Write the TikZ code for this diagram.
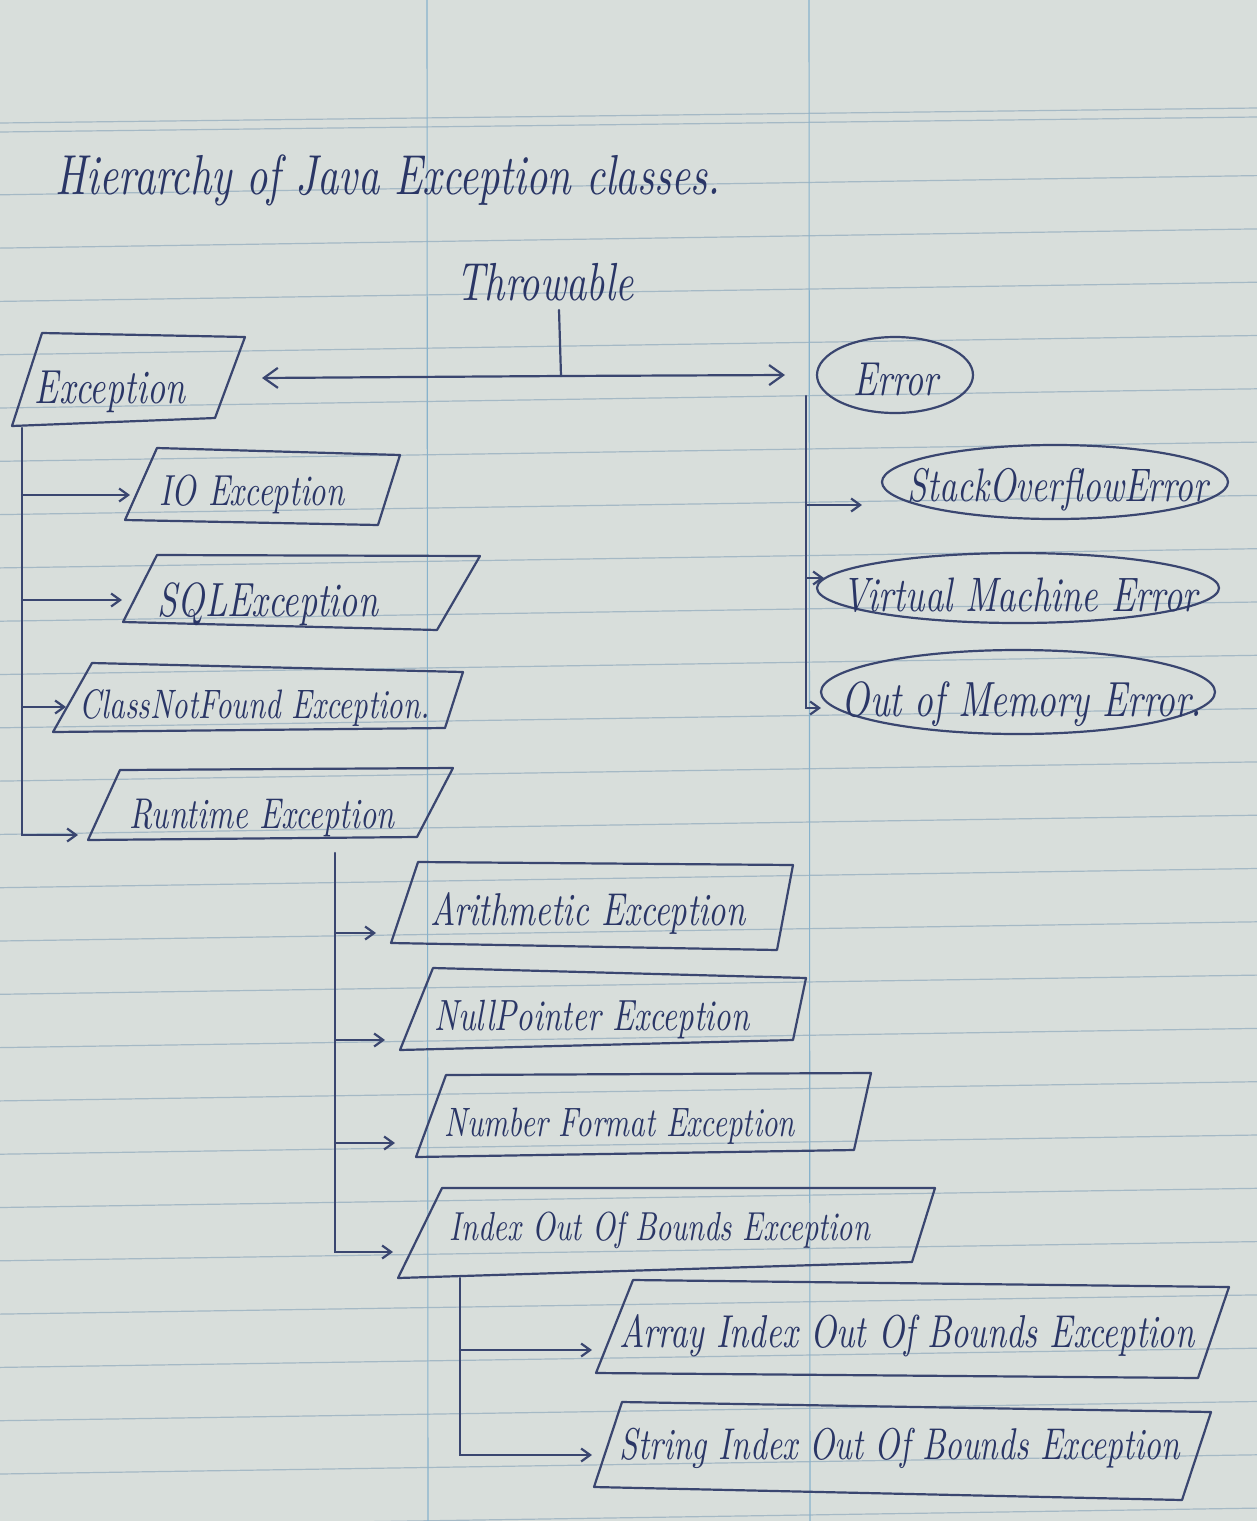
\documentclass[tikz,border=0pt]{standalone}
\usepackage{graphicx}
\usetikzlibrary{arrows.meta,shapes.geometric}
\definecolor{paper}{RGB}{216,222,219}
\definecolor{rulec}{RGB}{165,185,197}
\definecolor{marg}{RGB}{135,178,204}
\definecolor{ink}{RGB}{58,70,112}
\definecolor{inkt}{RGB}{42,54,102}
\newcommand{\hw}[2]{\resizebox{#1}{!}{\scalebox{1}[1.35]{\itshape #2}}}
\begin{document}
\begin{tikzpicture}[x=1pt,y=-1pt,
  shapebox/.style={draw=ink, line width=2.2pt, line join=round, line cap=round},
  conn/.style={draw=ink, line width=2.2pt, line cap=round, -{Straight Barb[length=9pt,width=13pt]}},
  bigconn/.style={draw=ink, line width=2.2pt, line cap=round, -{Straight Barb[length=14pt,width=20pt]}},
  plainln/.style={draw=ink, line width=2.2pt, line cap=round, line join=round},
  lbl/.style={text=inkt, inner sep=0pt},
  errell/.style={ellipse, draw=ink, line width=2.2pt, inner sep=0pt},
  ruled/.style={draw=rulec, line width=1.2pt},
  margin/.style={draw=marg, line width=1.1pt}]
\useasboundingbox (0,0) rectangle (1257,1521);
\fill[paper] (0,0) rectangle (1257,1521);
% ruled paper
\draw[ruled] (0,123) -- (1257,108);
\draw[ruled] (0,132) -- (1257,117);
\foreach \k in {0,...,25} {
  \pgfmathsetmacro\yy{178+53.3*\k}
  \draw[ruled] (0,\yy+16.8) -- (1257,\yy-2.4);
}
\draw[margin] (427,0) -- (428,1521);
\draw[margin] (809,0) -- (810,1521);

% title
\node[lbl] (title) at (388,180) {\hw{665pt}{Hierarchy of Java Exception classes.}};
\node[lbl] (thr) at (545,282) {\hw{177pt}{Throwable}};

% Throwable split
\coordinate (tickTop) at (559,310);
\coordinate (split) at (561,376);
\coordinate (excR) at (262,378);
\coordinate (errL) at (785,375);
\draw[plainln] (tickTop) -- (split);
\draw[bigconn] (split) -- (excR);
\draw[bigconn] (split) -- (errL);

% Exception
\draw[shapebox] (42,333) -- (245,337) -- (215,418) -- (12,426) -- cycle;
\node[lbl] (exc) at (110,392) {\hw{150pt}{Exception}};

\draw[shapebox] (157,448) -- (400,455) -- (378,525) -- (125,520) -- cycle;
\node[lbl] (io) at (252,494) {\hw{185pt}{IO Exception}};
\draw[shapebox] (157,555) -- (480,556) -- (437,630) -- (123,622) -- cycle;
\node[lbl] (sql) at (268,604) {\hw{220pt}{SQLException}};
\draw[shapebox] (92,663) -- (463,672) -- (445,728) -- (53,732) -- cycle;
\node[lbl] (cnf) at (255,708) {\hw{350pt}{ClassNotFound Exception.}};
\draw[shapebox] (120,770) -- (453,768) -- (417,837) -- (88,840) -- cycle;
\node[lbl] (rt) at (262,818) {\hw{265pt}{Runtime Exception}};

\coordinate (excTrunk) at (22,428);
\coordinate (ioL) at (130,495);
\coordinate (sqlL) at (122,600);
\coordinate (cnfL) at (66,707);
\coordinate (rtL) at (78,835);
\draw[conn] (excTrunk) -- (excTrunk |- rtL) -- (rtL);
\draw[conn] (excTrunk |- ioL) -- (ioL);
\draw[conn] (excTrunk |- sqlL) -- (sqlL);
\draw[conn] (excTrunk |- cnfL) -- (cnfL);

% Runtime children
\draw[shapebox] (418,862) -- (793,865) -- (777,950) -- (391,943) -- cycle;
\node[lbl] (ari) at (588,913) {\hw{315pt}{Arithmetic Exception}};
\draw[shapebox] (433,968) -- (806,978) -- (793,1040) -- (400,1050) -- cycle;
\node[lbl] (np) at (592,1020) {\hw{315pt}{NullPointer Exception}};
\draw[shapebox] (446,1075) -- (871,1073) -- (854,1150) -- (416,1157) -- cycle;
\node[lbl] (nf) at (620,1126) {\hw{350pt}{Number Format Exception}};
\draw[shapebox] (442,1188) -- (935,1188) -- (912,1262) -- (398,1278) -- cycle;
\node[lbl] (ioob) at (660,1230) {\hw{420pt}{Index Out Of Bounds Exception}};

\coordinate (rtTrunk) at (335,853);
\coordinate (ariL) at (376,933);
\coordinate (npL) at (385,1040);
\coordinate (nfL) at (395,1143);
\coordinate (ioobL) at (393,1252);
\draw[conn] (rtTrunk) -- (rtTrunk |- ioobL) -- (ioobL);
\draw[conn] (rtTrunk |- ariL) -- (ariL);
\draw[conn] (rtTrunk |- npL) -- (npL);
\draw[conn] (rtTrunk |- nfL) -- (nfL);

% Index children
\draw[shapebox] (633,1280) -- (1229,1287) -- (1198,1378) -- (596,1373) -- cycle;
\node[lbl] (aioob) at (907,1336) {\hw{575pt}{Array Index Out Of Bounds Exception}};
\draw[shapebox] (622,1402) -- (1211,1412) -- (1182,1500) -- (594,1487) -- cycle;
\node[lbl] (sioob) at (900,1448) {\hw{560pt}{String Index Out Of Bounds Exception}};

\coordinate (ixTrunk) at (460,1278);
\coordinate (aL) at (592,1350);
\coordinate (sL) at (592,1455);
\draw[conn] (ixTrunk) -- (ixTrunk |- sL) -- (sL);
\draw[conn] (ixTrunk |- aL) -- (aL);

% Errors
\node[errell, minimum width=156pt, minimum height=76pt] (errE) at (895,375) {};
\node[lbl] (err) at (896,380) {\hw{85pt}{Error}};
\node[errell, minimum width=346pt, minimum height=74pt] (soE) at (1055,482) {};
\node[lbl] (so) at (1058,490) {\hw{300pt}{StackOverflowError}};
\node[errell, minimum width=402pt, minimum height=70pt] (vmE) at (1018,588) {};
\node[lbl] (vm) at (1020,595) {\hw{355pt}{Virtual Machine Error}};
\node[errell, minimum width=394pt, minimum height=84pt] (oomE) at (1018,692) {};
\node[lbl] (oom) at (1022,704) {\hw{360pt}{Out of Memory Error.}};

\coordinate (errTrunk) at (806,396);
\coordinate (soL) at (862,505);
\coordinate (vmL) at (824,578);
\coordinate (oomL) at (821,708);
\draw[conn] (errTrunk) -- (errTrunk |- oomL) -- (oomL);
\draw[conn] (errTrunk |- soL) -- (soL);
\draw[conn] (errTrunk |- vmL) -- (vmL);
\end{tikzpicture}
\end{document}
